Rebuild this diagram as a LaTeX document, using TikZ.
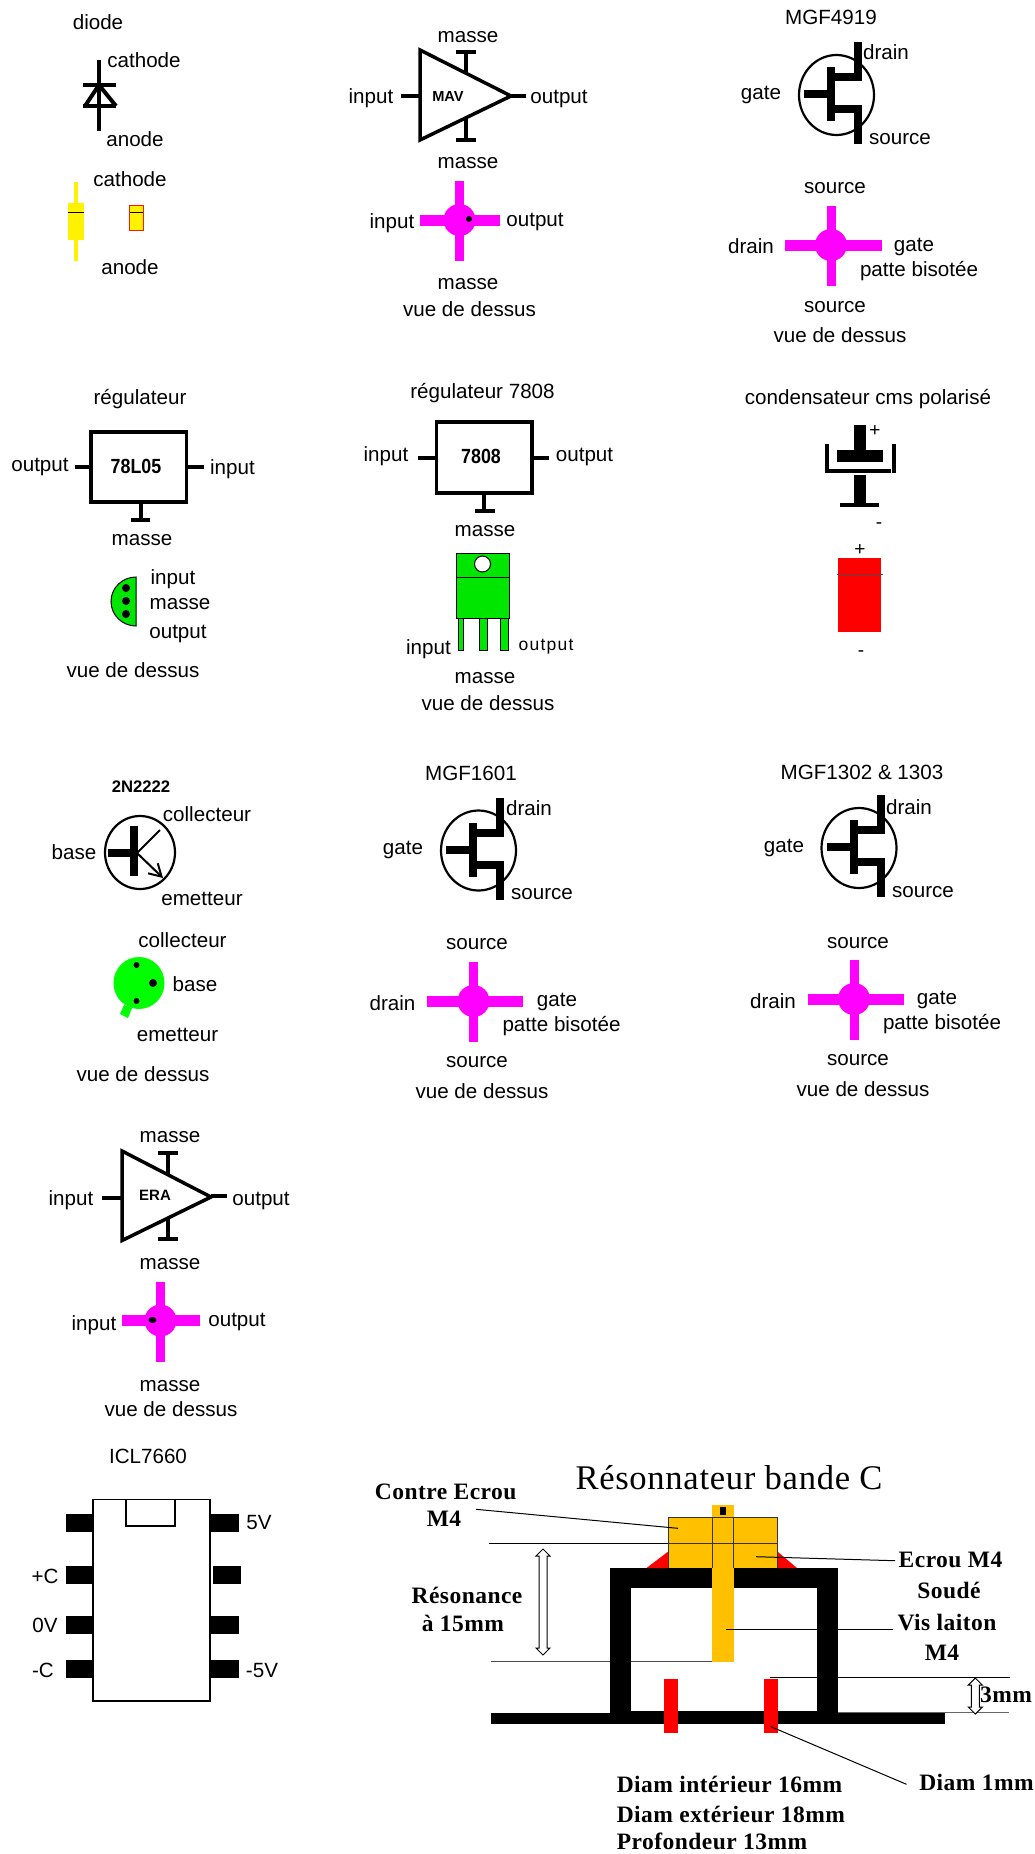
\documentclass[tikz,border=0pt]{standalone}
\usepackage{fontspec}
\usepackage{tikz}
\usetikzlibrary{arrows.meta}
\usetikzlibrary{shapes.arrows}
\setmainfont{Liberation Sans}
\newfontfamily\resofont[LetterSpace=2]{Liberation Serif}
\newfontfamily\widefont[LetterSpace=7]{Liberation Sans}
\definecolor{padgreen}{RGB}{0,230,0}
\definecolor{padlime}{RGB}{0,255,0}
\definecolor{padpink}{RGB}{255,0,255}
\definecolor{brass}{RGB}{255,192,0}
\tikzset{lbl/.style = {inner sep=0pt, text height=14.8pt, text depth=0pt,
                       font=\fontsize{20.6}{24}\selectfont},
         sign/.style = {inner sep=0pt, font=\fontsize{19}{22}\selectfont},
         chip/.style = {inner sep=0pt, font=\fontsize{#1}{20}\selectfont\bfseries},
         reso/.style = {inner sep=0pt, font=\fontsize{23.5}{28}\selectfont\resofont\bfseries},
         wire/.style = {line width=4pt},
         thin line/.style = {line width=1pt},
         gap/.style = {double arrow, draw, fill=white, rotate=90, inner sep=0pt,
                       line width=1pt, double arrow head extend=3pt},
         pics/fetsym/.style = {code={
           \draw [line width=2.2pt] (0,0) ellipse [x radius=37.5, y radius=40];
           \fill (-9.5,-28) rectangle (-1.5,26);
           \fill (-32.5,-5) rectangle (-9.5,3);
           \fill (-1.5,-22) rectangle (25.5,-14);
           \fill (17.5,-53) rectangle (25.5,-14);
           \fill (-1.5,10) rectangle (25.5,18);
           \fill (17.5,10) rectangle (25.5,49);
         }},
         pics/crosssym/.style 2 args = {code={
           \fill [padpink] (-4.5,-39) rectangle (4.5,41);
           \fill [padpink] (-#1,-5.5) rectangle (#2,5.5);
           \fill [padpink] (0,0) circle (16);
         }},
         pics/masseup/.style = {code={
           \draw [wire] (0,0) -- (0,-21);
           \draw [wire] (-10,-21) -- (10,-21);
         }},
         pics/massedown/.style = {code={
           \draw [wire] (0,0) -- (0,21);
           \draw [wire] (-10,21) -- (10,21);
         }}}
\begin{document}
\begin{tikzpicture}[x=1pt, y=-1pt]
  \useasboundingbox (0,0) rectangle (1035,1854);

  % diode
  \node [lbl] (diodetitle) at (98,22) {diode};
  \node [lbl] (diodek) at (144,60) {cathode};
  \node [lbl] (diodea) at (135,139) {anode};
  \draw [wire] (99,60) -- (99,131);
  \draw [wire] (83,85) -- (116,85);
  \draw [wire] (83,106) -- (116,106);
  \draw [wire] (99,85) -- (85,106);
  \draw [wire] (99,85) -- (116,106);
  \fill [yellow] (74,182) rectangle (78,261);
  \fill [yellow] (68,203) rectangle (84,240);
  \draw [thin line] (68,212) -- (84,212);
  \draw [thin line, fill=yellow, draw=red!80!orange] (129.5,205) rectangle (143,230);
  \draw [thin line] (129.5,212) -- (143,212);
  \node [lbl] (smdk) at (130,179) {cathode};
  \node [lbl] (smda) at (130,267) {anode};

  % MAV
  \draw [line width=3.5pt, fill=white] (420,50) -- (511,96) -- (420,140) -- cycle;
  \node [chip=14.6] (mavname) at (448,96) {MAV};
  \draw [wire] (401,96) -- (420,96);
  \draw [wire] (511,96) -- (526,96);
  \pic at (466,73) {masseup};
  \pic at (466,119) {massedown};
  \node [lbl] (mavtop) at (468,35) {masse};
  \node [lbl] (mavbot) at (468,161) {masse};
  \node [lbl] (mavin) at (371,96) {input};
  \node [lbl] (mavout) at (559,96) {output};
  \pic at (459.5,220) {crosssym={39.5}{40.5}};
  \fill (469,219) circle (3);
  \node [lbl] (mavpadin) at (392,221) {input};
  \node [lbl] (mavpadout) at (535,219) {output};
  \node [lbl] (mavpadgnd) at (468,282) {masse};
  \node [lbl] (mavview) at (469.5,309) {vue de dessus};

  % MGF4919
  \node [lbl] (ftitle) at (831,17) {MGF4919};
  \pic at (836.5,95) {fetsym};
  \node [lbl] (fdrain) at (886,52) {drain};
  \node [lbl] (fgate) at (761,92) {gate};
  \node [lbl] (fsource) at (900,137) {source};
  \pic at (831,245) {crosssym={46}{51}};
  \node [lbl] (fpads) at (835,186) {source};
  \node [lbl] (fpadd) at (751,246) {drain};
  \node [lbl] (fpadg) at (914,244) {gate};
  \node [lbl] (fpatte) at (919,269) {patte bisotée};
  \node [lbl] (fpadt) at (835,305) {source};
  \node [lbl] (fview) at (840,335) {vue de dessus};

  % 78L05
  \node [lbl] (regtitle) at (140,397) {régulateur};
  \draw [line width=3.5pt] (91,432) rectangle (186.5,502);
  \node [chip=20.5] (regname) at (136,466) {\scalebox{0.87}[1]{78L05}};
  \draw [wire] (75,467) -- (91,467);
  \draw [wire] (186.5,467) -- (203.5,467);
  \draw [wire] (141,502) -- (141,520);
  \draw [wire] (131,520) -- (150,520);
  \node [lbl] (regout) at (40,464) {output};
  \node [lbl] (regin) at (232.5,467) {input};
  \node [lbl] (reggnd) at (142,538) {masse};
  \draw [thin line, fill=padgreen] (136,577) arc (-90:-270:25 and 24.5) -- cycle;
  \foreach \y in {588,601,614} {
    \fill (126,\y) circle (4);
  }
  \node [lbl] (regpadin) at (173,577) {input};
  \node [lbl] (regpadgnd) at (180,602) {masse};
  \node [lbl] (regpadout) at (178,631) {output};
  \node [lbl] (regview) at (133,670) {vue de dessus};

  % 7808
  \node [lbl] (bigtitle) at (482.5,391) {régulateur 7808};
  \draw [line width=3.5pt] (436.5,422) rectangle (532,493);
  \node [chip=20.5] (bigname) at (481,456) {\scalebox{0.87}[1]{7808}};
  \draw [wire] (418,458) -- (436.5,458);
  \draw [wire] (532,458) -- (549,458);
  \draw [wire] (484,493) -- (484,511);
  \draw [wire] (475,511) -- (495,511);
  \node [lbl] (bigin) at (386,454) {input};
  \node [lbl] (bigout) at (584.5,454) {output};
  \node [lbl] (biggnd) at (485,529) {masse};
  \draw [thin line, fill=padgreen] (458,618) rectangle +(5.5,32);
  \foreach \x in {479,500} {
    \draw [thin line, fill=padgreen] (\x,618) rectangle +(8,32);
  }
  \draw [thin line, fill=padgreen] (456,553) rectangle (509.5,618);
  \draw [thin line] (456,577) -- (509.5,577);
  \draw [thin line, fill=white] (482.5,564) circle (8);
  \node [lbl] (bigpadin) at (428.5,647) {input};
  \node [lbl, font=\fontsize{17.5}{20}\selectfont\widefont] (bigpadout) at (546,643) {output};
  \node [lbl] (bigpadgnd) at (485,676) {masse};
  \node [lbl] (bigview) at (488,703) {vue de dessus};

  % condensateur
  \node [lbl] (captitle) at (868,397) {condensateur cms polarisé};
  \fill (854,425) rectangle (866,450);
  \fill (837,450) rectangle (883,462);
  \fill (825,444) rectangle (829,473);
  \fill (825,469) rectangle (891,473);
  \fill (892,444) rectangle (896,473);
  \fill (854,475) rectangle (866,503);
  \fill (840,503) rectangle (879,507);
  \node [sign] (capplus) at (875,431) {+};
  \node [sign] (capminus) at (879,526) {-};
  \fill [red] (838,558) rectangle (881,632);
  \draw [thin line, black!70] (837,574) -- (883,574);
  \node [sign] (cmsplus) at (860,550) {+};
  \node [sign] (cmsminus) at (861,654) {-};

  % 2N2222
  \node [chip=16.7] (npntitle) at (141,787) {2N2222};
  \draw [line width=2.2pt] (140,852.5) ellipse [x radius=35, y radius=36.5];
  \fill (130,826) rectangle (138,876);
  \fill (108,849) rectangle (130,857);
  \draw [line width=2pt] (137,853) -- (160,830);
  \draw [line width=2pt, -{Straight Barb[length=12pt, width=14pt]}] (137,853) -- (163,878);
  \node [lbl] (npnc) at (207,814) {collecteur};
  \node [lbl] (npnb) at (74,852) {base};
  \node [lbl] (npne) at (202,898) {emetteur};
  \fill [padlime] (124,1005) -- (132,1008) -- (128,1018) -- (120,1014) -- cycle;
  \fill [padlime] (139,983) ellipse [x radius=25.5, y radius=26];
  \fill (136.5,965) circle (3);
  \fill (153,983) circle (4);
  \fill (136.5,1001) circle (3);
  \node [lbl] (npnpadc) at (182.5,940) {collecteur};
  \node [lbl] (npnpadb) at (195,984) {base};
  \node [lbl] (npnpade) at (177.5,1034) {emetteur};
  \node [lbl] (npnview) at (143,1074) {vue de dessus};

  % MGF1601
  \node [lbl] (gtitle) at (471,773) {MGF1601};
  \pic at (478.5,850.5) {fetsym};
  \node [lbl] (gdrain) at (529,808) {drain};
  \node [lbl] (ggate) at (403,847) {gate};
  \node [lbl] (gsource) at (542,892) {source};
  \pic at (473.5,1001) {crosssym={46.5}{49.5}};
  \node [lbl] (gpads) at (477,942) {source};
  \node [lbl] (gpadd) at (392.5,1003) {drain};
  \node [lbl] (gpadg) at (557,999) {gate};
  \node [lbl] (gpatte) at (561.5,1024) {patte bisotée};
  \node [lbl] (gpadt) at (477,1060) {source};
  \node [lbl] (gview) at (482,1091) {vue de dessus};

  % MGF1302
  \node [lbl] (htitle) at (862,772) {MGF1302 \& 1303};
  \pic at (859,848) {fetsym};
  \node [lbl] (hdrain) at (909,807) {drain};
  \node [lbl] (hgate) at (784,845) {gate};
  \node [lbl] (hsource) at (923,890) {source};
  \pic at (854,999) {crosssym={46}{50}};
  \node [lbl] (hpads) at (858,941) {source};
  \node [lbl] (hpadd) at (773,1001) {drain};
  \node [lbl] (hpadg) at (937,997) {gate};
  \node [lbl] (hpatte) at (942,1022) {patte bisotée};
  \node [lbl] (hpadt) at (858,1058) {source};
  \node [lbl] (hview) at (863,1089) {vue de dessus};

  % ERA
  \draw [line width=3.5pt, fill=white] (122,1151) -- (211,1197) -- (122,1240.5) -- cycle;
  \node [chip=15] (eraname) at (155,1195) {ERA};
  \draw [wire] (102,1198) -- (122,1198);
  \draw [wire] (211,1196) -- (227,1196);
  \pic at (168,1174) {masseup};
  \pic at (167.5,1218) {massedown};
  \node [lbl] (eratop) at (170,1135) {masse};
  \node [lbl] (erabot) at (170,1262) {masse};
  \node [lbl] (erain) at (71,1198) {input};
  \node [lbl] (eraout) at (261,1198) {output};
  \pic at (160.5,1320.5) {crosssym={38.5}{39.5}};
  \fill (152.5,1320) ellipse [x radius=4, y radius=3];
  \node [lbl] (erapadin) at (94,1323) {input};
  \node [lbl] (erapadout) at (237,1319) {output};
  \node [lbl] (erapadgnd) at (170,1384) {masse};
  \node [lbl] (eraview) at (171,1409) {vue de dessus};

  % ICL7660
  \node [lbl] (icltitle) at (148,1456) {ICL7660};
  \draw [line width=1.5pt] (93,1499.5) rectangle (210,1701);
  \draw [line width=1.5pt] (126,1499.5) rectangle (175,1526);
  \foreach \y in {1514,1566,1616,1660} {
    \fill (66,\y) rectangle +(27,18);
  }
  \foreach \y in {1514,1616,1660} {
    \fill (211,\y) rectangle +(28,18);
  }
  \fill (213,1566) rectangle +(28,18);
  \node [lbl] (iclfive) at (259,1522) {5V};
  \node [lbl] (iclplus) at (45,1576) {+C};
  \node [lbl] (iclzero) at (45,1625) {0V};
  \node [lbl] (iclminus) at (43,1670) {-C};
  \node [lbl] (iclneg) at (262,1670) {-5V};

  % resonateur
  \coordinate (reshigh) at (489,1543.7);
  \coordinate (reslow) at (491,1661.7);
  \coordinate (nutend) at (777.6,1543.7);
  \coordinate (tipend) at (733.5,1661.7);
  \draw [thin line] (reshigh) -- (nutend);
  \draw [thin line, black!70] (reslow) -- (tipend);
  \fill (609.7,1567.7) rectangle (838,1588.3);
  \fill (609.7,1567.7) rectangle (630.5,1724);
  \fill (817.4,1567.7) rectangle (838,1724);
  \fill (490.7,1713.3) rectangle (945,1724);
  \fill (610,1711) rectangle (838,1724);
  \fill [red] (668,1551.7) -- (646.5,1568) -- (668,1568) -- cycle;
  \fill [red] (777.6,1551.7) -- (797,1568) -- (777.6,1568) -- cycle;
  \fill [brass] (668,1517) rectangle (777.6,1568);
  \fill [brass] (712,1505) rectangle (733.5,1661.7);
  \draw [thin line, black!80] (668,1568) -- (668,1517) -- (777.6,1517) -- (777.6,1568);
  \draw [thin line, black!80] (668,1543.7) -- (777.6,1543.7);
  \draw [thin line, black!80] (712,1517) -- (712,1568);
  \draw [thin line, black!80] (733.5,1517) -- (733.5,1568);
  \fill (720,1507) rectangle (726,1515);
  \fill [red] (663.8,1679) rectangle (678,1733.3);
  \fill [red] (764,1679) rectangle (778,1733.3);

  \coordinate (contrestart) at (476,1509.3);
  \coordinate (contreend) at (678,1528.3);
  \coordinate (ecroustart) at (756,1556.7);
  \coordinate (ecrouend) at (895,1560.7);
  \coordinate (visstart) at (725.6,1629.3);
  \coordinate (visend) at (893,1629.3);
  \coordinate (gaptop) at (770,1677.7);
  \coordinate (gaptopend) at (1010.4,1677.7);
  \coordinate (gapbot) at (838,1712);
  \coordinate (gapbotend) at (1009,1712);
  \coordinate (pinstart) at (771,1726.7);
  \coordinate (pinend) at (906.5,1784.3);
  \draw [thin line] (contrestart) -- (contreend);
  \draw [thin line] (ecroustart) -- (ecrouend);
  \draw [thin line] (visstart) -- (visend);
  \draw [thin line] (gaptop) -- (gaptopend);
  \draw [thin line, black!60] (gapbot) -- (gapbotend);
  \draw [thin line] (pinstart) -- (pinend);

  \node [gap, minimum height=106pt] (resgap) at (543,1602) {\rule{0pt}{7pt}};
  \node [gap, minimum height=36pt] (airgap) at (975.3,1696) {\rule{0pt}{7pt}};

  \node [inner sep=0pt, font=\fontsize{34.6}{40}\selectfont\resofont] (restitle) at (729,1478) {Résonnateur bande C};
  \node [reso] (contre) at (445.7,1492) {Contre Ecrou};
  \node [reso] (contrem) at (444,1519) {M4};
  \node [reso] (ecrou) at (950.5,1560) {Ecrou M4};
  \node [reso] (soude) at (949,1590.7) {Soudé};
  \node [reso] (vis) at (947,1623) {Vis laiton};
  \node [reso] (vism) at (942,1653) {M4};
  \node [reso] (reson) at (467,1595) {Résonance};
  \node [reso] (resfreq) at (463,1623) {à 15mm};
  \node [reso] (gapval) at (1006,1695) {3mm};
  \node [reso] (pindiam) at (976.5,1782) {Diam 1mm};
  \node [reso, anchor=west] (diamint) at (616.6,1784) {Diam intérieur 16mm};
  \node [reso, anchor=west] (diamext) at (616.6,1814) {Diam extérieur 18mm};
  \node [reso, anchor=west] (depth) at (616.6,1841) {Profondeur 13mm};
\end{tikzpicture}
\end{document}
